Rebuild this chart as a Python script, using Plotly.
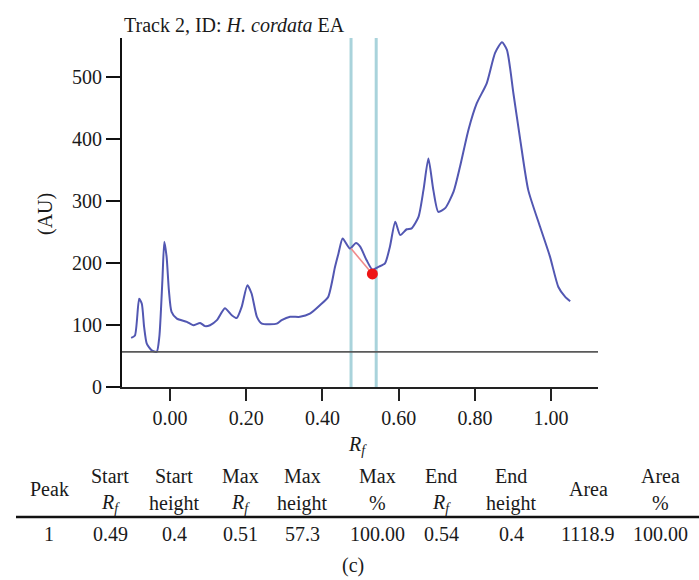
import plotly.graph_objects as go

# ---------------- data ----------------
rf = [-0.102, -0.092, -0.081, -0.074, -0.068, -0.061, -0.048, -0.035, -0.028, -0.020,
      -0.015, -0.009, -0.003, 0.004, 0.018, 0.044, 0.061, 0.079, 0.092, 0.105,
      0.123, 0.144, 0.162, 0.175, 0.188, 0.203, 0.214, 0.228, 0.241, 0.262,
      0.280, 0.293, 0.315, 0.341, 0.367, 0.394, 0.415, 0.433, 0.442, 0.453,
      0.472, 0.488, 0.499, 0.516, 0.531, 0.547, 0.564, 0.577, 0.591, 0.604,
      0.621, 0.634, 0.652, 0.665, 0.678, 0.691, 0.704, 0.722, 0.744, 0.761,
      0.783, 0.805, 0.831, 0.853, 0.871, 0.884, 0.901, 0.919, 0.940, 0.971,
      0.997, 1.019, 1.037, 1.050]
au = [79, 83, 142, 134, 97, 70, 59, 56.5, 81, 172,
      234, 210, 156, 121, 110, 105, 99.5, 103, 98, 99.5,
      107.6, 127, 115.6, 111, 129, 164, 150.6, 113, 102, 101,
      102, 107.6, 113, 113, 118, 132, 145, 193.5, 215, 239,
      223, 232, 226, 204, 189, 193.5, 199, 226, 266, 244.7,
      254, 255.5, 274, 317, 368, 317, 282, 288, 314.5, 355,
      414, 457, 489, 538, 555, 543, 473, 398, 317, 258,
      210, 161, 145, 138]

baseline_au = 56.5
marker_rf = [0.475, 0.541]
peak_line_rf = [0.475, 0.531]
peak_line_au = [223, 182]
peak_point_rf = [0.531]
peak_point_au = [182]

title_text = "Track 2, ID: <i>H. cordata</i> EA"
header_line1 = ["", "Start", "Start", "Max", "Max", "Max", "End", "End", "", "Area"]
header_line2 = ["", "<i>R</i><sub><i>f</i></sub>", "height", "<i>R</i><sub><i>f</i></sub>", "height",
                "%", "<i>R</i><sub><i>f</i></sub>", "height", "", "%"]
header_single = ["Peak", "", "", "", "", "", "", "", "Area", ""]
row_values = ["1", "0.49", "0.4", "0.51", "57.3", "100.00", "0.54", "0.4", "1118.9", "100.00"]

# ---------------- layout geometry (pixels) ----------------
W, H = 699, 580
L, R, T, B = 122, 598, 38, 387
col_px = [49, 110, 174, 240, 302, 377, 441, 511, 588, 660]

FONT = "Liberation Serif"
FS = 20
INK = "#1a1a1a"


def px_x(x):
    return (x - L) / (R - L)


def px_y(y):
    return (B - y) / (B - T)


fig = go.Figure()

fig.add_trace(go.Scatter(x=rf, y=au, mode="lines",
                         line=dict(color="#5257b2", width=2, shape="spline", smoothing=0.6),
                         hoverinfo="skip", showlegend=False))
fig.add_trace(go.Scatter(x=peak_line_rf, y=peak_line_au, mode="lines",
                         line=dict(color="#f08a8a", width=1.6), showlegend=False))
fig.add_trace(go.Scatter(x=peak_point_rf, y=peak_point_au, mode="markers",
                         marker=dict(color="#ee1515", size=11), showlegend=False))

shapes = []
# baseline
shapes.append(dict(type="line", xref="paper", yref="y", x0=0, x1=1,
                   y0=baseline_au, y1=baseline_au, line=dict(color="#5a5a5a", width=1.8)))
# vertical markers
for v in marker_rf:
    shapes.append(dict(type="line", xref="x", yref="paper", x0=v, x1=v, y0=0, y1=1,
                       line=dict(color="#a9d3db", width=3), layer="below"))
# table rule
shapes.append(dict(type="line", xref="paper", yref="paper", x0=px_x(16), x1=px_x(699),
                   y0=px_y(517), y1=px_y(517), line=dict(color="#111", width=2.7)))

annotations = []
annotations.append(dict(text=title_text, xref="paper", yref="paper", x=px_x(122), y=px_y(25),
                        xanchor="left", yanchor="middle", showarrow=False,
                        font=dict(family=FONT, size=FS, color=INK)))
annotations.append(dict(text="(AU)", xref="paper", yref="paper", x=px_x(45), y=px_y(214),
                        xanchor="center", yanchor="middle", textangle=-90, showarrow=False,
                        font=dict(family=FONT, size=FS, color=INK)))
annotations.append(dict(text="<i>R</i><sub><i>f</i></sub>", xref="paper", yref="paper",
                        x=px_x(357), y=px_y(445), xanchor="center", yanchor="middle",
                        showarrow=False, font=dict(family=FONT, size=FS, color=INK)))
for i, cx in enumerate(col_px):
    for txt, py in ((header_line1[i], 476), (header_line2[i], 503),
                    (header_single[i], 489), (row_values[i], 534)):
        if txt:
            annotations.append(dict(text=txt, xref="paper", yref="paper", x=px_x(cx), y=px_y(py),
                                    xanchor="center", yanchor="middle", showarrow=False,
                                    font=dict(family=FONT, size=FS, color=INK)))
annotations.append(dict(text="(c)", xref="paper", yref="paper", x=px_x(353), y=px_y(565),
                        xanchor="center", yanchor="middle", showarrow=False,
                        font=dict(family=FONT, size=FS, color=INK)))

fig.update_layout(
    width=W, height=H,
    margin=dict(l=L, r=W - R, t=T, b=H - B, pad=0),
    paper_bgcolor="white", plot_bgcolor="white",
    showlegend=False,
    shapes=shapes, annotations=annotations,
    font=dict(family=FONT, size=FS, color=INK),
    xaxis=dict(range=[-0.126, 1.123], tick0=0, dtick=0.2, tickformat=".2f",
               showgrid=False, zeroline=False, showline=True, linecolor="#222", linewidth=2,
               ticks="outside", ticklen=12, tickwidth=2, tickcolor="#222",
               tickfont=dict(family=FONT, size=FS, color=INK)),
    yaxis=dict(range=[0, 562], tick0=0, dtick=100, showgrid=False, zeroline=False,
               showline=True, linecolor="#111", linewidth=2,
               ticks="outside", ticklen=14, tickwidth=2, tickcolor="#111",
               tickfont=dict(family=FONT, size=FS, color=INK)),
)

fig.write_html("out.html")
